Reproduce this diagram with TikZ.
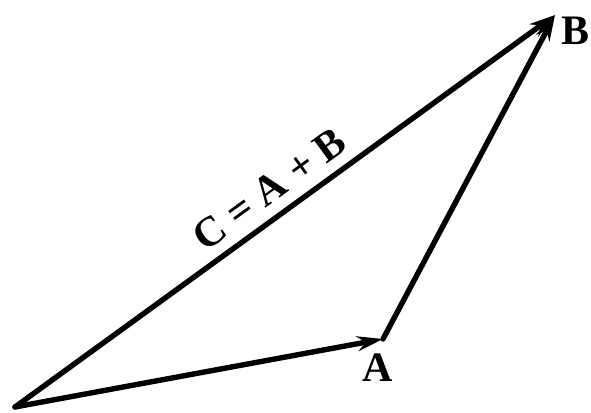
\documentclass[tikz,border=0pt]{standalone}
\usepackage{fontspec}
\setmainfont{Liberation Serif}
\usetikzlibrary{arrows.meta,positioning}
\tikzset{
  vec/.style={-{Stealth[length=13pt,width=7.5pt]},draw=black,line width=2.7pt,line cap=round,line join=round},
  veclabel/.style={font=\fontsize{21}{23}\selectfont\bfseries,inner sep=1pt},
}
\begin{document}
\begin{tikzpicture}[x=0.5pt,y=0.5pt]
\useasboundingbox (0,0) rectangle (591,413);
\coordinate (o) at (15,6);
\coordinate (a) at (383,74);
\coordinate (b) at (555,398);
\draw[vec] (o) -- (a);
\draw[vec] (a) -- (b);
\draw[vec] (o) -- (b) node[veclabel,pos=.5,above=4pt,sloped] (c) {C = A + B};
\node[veclabel,below left=6pt and -6pt of a] (alabel) {A};
\node[veclabel,right=2pt of b,yshift=-8pt] (blabel) {B};
\end{tikzpicture}
\end{document}
